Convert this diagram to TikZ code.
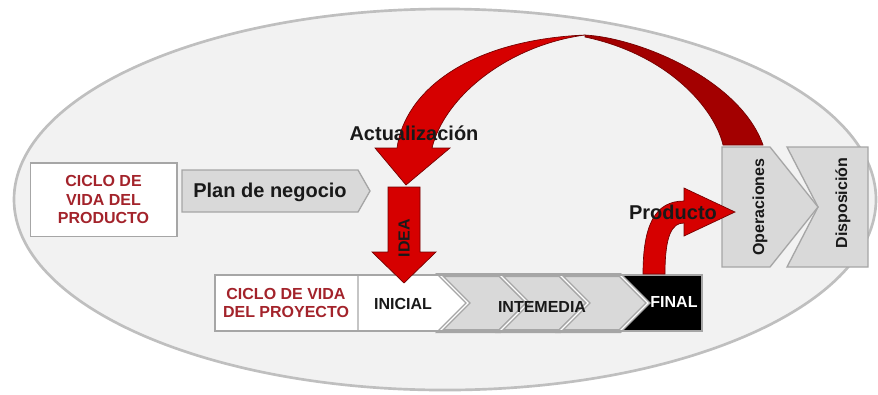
\documentclass[tikz,border=0pt]{standalone}
\usepackage{fontspec}
\setmainfont{Liberation Sans}
\definecolor{rojo}{HTML}{D60000}
\definecolor{rojoosc}{HTML}{A30000}
\definecolor{granate}{HTML}{A3232B}
\definecolor{gris}{HTML}{D9D9D9}
\definecolor{borde}{HTML}{A6A6A6}
\definecolor{fondo}{HTML}{F2F2F2}
\tikzset{
  titulo/.style={font=\bfseries\fontsize{12}{14}\selectfont, text=granate, align=center},
  fase/.style={font=\bfseries\fontsize{12}{14}\selectfont, text=black!90},
  rotulo/.style={font=\bfseries\fontsize{15}{18}\selectfont, text=black!90},
  caja/.style={fill=white, draw=borde, line width=1pt},
  bloque/.style={fill=gris, draw=borde, line width=1pt},
  flecha/.style={fill=rojo, draw=rojoosc!70!black, line width=0.5pt}
}
\begin{document}
\begin{tikzpicture}[x=0.75pt,y=-0.75pt]
\useasboundingbox (0,0) rectangle (878,394);
\draw[fill=fondo, draw=gray!50, line width=2pt] (445,199.5) ellipse (323.25pt and 142.9pt);

% ciclo del producto
\node[caja, titulo, minimum width=110pt, minimum height=55pt] (prod) at (103.5,199.5) {CICLO DE\\VIDA DEL\\PRODUCTO};
\draw[bloque] (182,170) -- (358,170) -- (370,191) -- (358,212) -- (182,212) -- cycle;
\node[rotulo] (plan) at (270,192) {Plan de negocio};

% ciclo del proyecto, edit here for the chevrons
\fill[white] (215,275) rectangle (358,331);
\node[titulo] (proy) at (286,303) {CICLO DE VIDA\\DEL PROYECTO};
\fill[black] (620,275) -- (702,275) -- (702,331) -- (620,331) -- (648,303) -- cycle;
\draw[caja] (358,275) -- (440,275) -- (468,303) -- (440,331) -- (358,331) -- cycle;
\foreach \x in {440,500,560}
\draw[bloque, double=white, double distance=1pt] (\x,275) -- ++(60,0) -- ++(28,28) -- ++(-28,28) -- ++(-60,0) -- ++(28,-28) -- cycle;
\draw[draw=borde, line width=1.5pt] (215,275) rectangle (702,331);
\node[fase] (inicial) at (403,304) {INICIAL};
\node[fase] (intermedia) at (542,307) {INTEMEDIA};
\node[fase, text=white] (final) at (674,302) {FINAL};

% operaciones y disposicion
\draw[bloque] (787,147) -- (868,147) -- (868,267) -- (787,267) -- (818,207) -- cycle;
\draw[bloque] (722,147) -- (770,147) -- (818,207) -- (770,267) -- (722,267) -- cycle;
\node[fase, rotate=90] (oper) at (760,207) {Operaciones};
\node[fase, rotate=90] (dispo) at (843,203) {Disposición};

% actualizacion
\draw[flecha, fill=rojoosc] (585,35) .. controls (640,38) and (740,80) .. (763,145) -- (723,145) .. controls (715,110) and (670,55) .. (585,37) -- cycle;
\draw[flecha] (375,148) -- (397,148) .. controls (405,90) and (470,40) .. (585,35) .. controls (510,45) and (445,95) .. (432,148) -- (450,148) -- (406,185) -- cycle;
\node[rotulo] (actual) at (414,133) {Actualización};

% idea
\draw[flecha] (388,187) -- (420,187) -- (420,252) -- (436,252) -- (404,283) -- (372,252) -- (388,252) -- cycle;
\node[fase, rotate=90] (idea) at (404,238) {IDEA};

% producto
\draw[flecha] (643,274) .. controls (643,225) and (655,201) .. (684,201) -- (684,188) -- (735,212) -- (684,236) -- (684,223) .. controls (672,223) and (665,235) .. (665,274) -- cycle;
\node[rotulo] (producto) at (673,212) {Producto};
\end{tikzpicture}
\end{document}
